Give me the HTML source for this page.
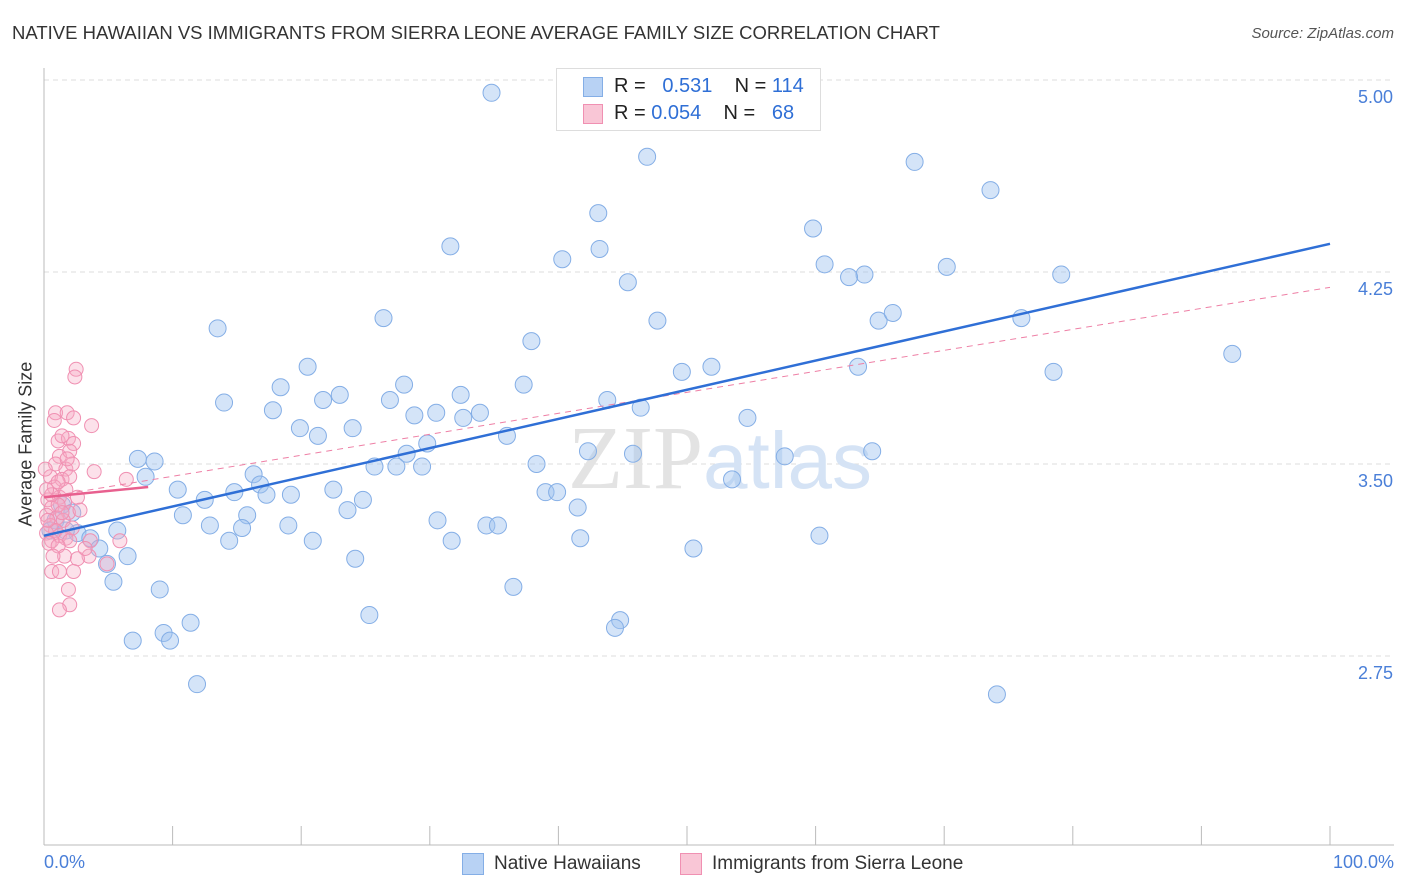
<!DOCTYPE html>
<html><head><meta charset="utf-8"><style>
body{margin:0;background:#fff;font-family:"Liberation Sans",sans-serif}
#wrap{position:relative;width:1406px;height:892px;overflow:hidden}
.t{position:absolute;white-space:nowrap}
</style></head><body>
<div id="wrap">
<div class="t" style="left:12px;top:22px;font-size:18.5px;color:#333">NATIVE HAWAIIAN VS IMMIGRANTS FROM SIERRA LEONE AVERAGE FAMILY SIZE CORRELATION CHART</div>
<div class="t" style="right:12px;top:25px;font-size:15px;color:#555;font-style:italic">Source: ZipAtlas.com</div>
<svg id="svg" width="1406" height="892" style="position:absolute;left:0;top:0"></svg>
</div>
<script>
const yTicks=[5.00,4.25,3.50,2.75];
const yTickLabels=["5.00","4.25","3.50","2.75"];
const xTickLabels=["0.0%","100.0%"];
const blueX=[34.8,46.9,67.7,73.6,43.1,59.8,31.6,43.2,40.3,60.7,70.2,63.8,62.6,79.1,45.4,26.4,13.5,47.7,64.9,66.0,76.0,37.9,92.4,20.5,51.9,49.6,63.3,78.5,28.0,18.4,37.3,14.0,23.0,21.7,26.9,32.4,43.8,17.8,28.8,30.5,32.6,33.9,46.4,54.7,19.9,21.3,24.0,36.0,29.8,28.2,42.3,45.8,57.6,64.4,7.3,8.6,25.7,27.4,29.4,38.3,16.3,7.9,16.8,53.5,10.4,14.8,17.3,19.2,22.5,12.5,24.8,39.0,39.9,23.6,41.5,15.8,10.8,30.6,34.4,35.3,12.9,19.0,15.4,5.7,2.6,3.6,14.4,20.9,31.7,41.7,60.3,4.3,6.5,50.5,24.2,4.9,5.4,36.5,9.0,25.3,44.8,44.4,11.4,9.3,9.8,6.9,11.9,74.1,1.4,2.2,0.9,0.5,1.7];
const blueY=[4.95,4.70,4.68,4.57,4.48,4.42,4.35,4.34,4.30,4.28,4.27,4.24,4.23,4.24,4.21,4.07,4.03,4.06,4.06,4.09,4.07,3.98,3.93,3.88,3.88,3.86,3.88,3.86,3.81,3.80,3.81,3.74,3.77,3.75,3.75,3.77,3.75,3.71,3.69,3.70,3.68,3.70,3.72,3.68,3.64,3.61,3.64,3.61,3.58,3.54,3.55,3.54,3.53,3.55,3.52,3.51,3.49,3.49,3.49,3.50,3.46,3.45,3.42,3.44,3.40,3.39,3.38,3.38,3.40,3.36,3.36,3.39,3.39,3.32,3.33,3.30,3.30,3.28,3.26,3.26,3.26,3.26,3.25,3.24,3.23,3.21,3.20,3.20,3.20,3.21,3.22,3.17,3.14,3.17,3.13,3.11,3.04,3.02,3.01,2.91,2.89,2.86,2.88,2.84,2.81,2.81,2.64,2.60,3.34,3.31,3.28,3.24,3.24];
const pinkX=[2.5,2.4,0.9,1.8,2.3,3.7,0.8,1.1,1.9,2.3,1.4,1.2,2.0,0.9,1.7,2.2,3.9,6.4,0.5,1.4,2.0,0.8,2.6,1.2,0.3,1.6,0.6,1.9,0.2,1.0,1.5,0.5,0.9,0.2,1.2,1.7,0.6,2.0,0.4,1.1,5.9,3.6,1.6,3.5,2.6,4.9,0.6,1.2,2.3,1.9,2.0,1.2,1.1,0.1,2.8,0.6,0.2,1.7,1.4,0.3,2.2,1.1,1.8,3.2,0.7];
const pinkY=[3.87,3.84,3.70,3.70,3.68,3.65,3.67,3.59,3.60,3.58,3.61,3.53,3.55,3.50,3.48,3.50,3.47,3.44,3.45,3.44,3.45,3.41,3.37,3.37,3.36,3.35,3.33,3.31,3.30,3.29,3.28,3.26,3.24,3.23,3.22,3.21,3.20,3.20,3.19,3.18,3.20,3.20,3.14,3.14,3.13,3.11,3.08,3.08,3.08,3.01,2.95,2.93,3.34,3.48,3.32,3.38,3.40,3.40,3.31,3.28,3.25,3.43,3.52,3.17,3.14];
const blueLine=[3.22,4.36];
const pinkSolid=[[0,3.37],[8.1,3.41]];
const pinkDash=[3.37,4.19];

const X=p=>44+p*12.86, Y=v=>80+(5-v)*256;
const svg=document.getElementById('svg'),NS='http://www.w3.org/2000/svg';
function mk(tag,attrs,parent){const e=document.createElementNS(NS,tag);for(const k in attrs)e.setAttribute(k,attrs[k]);(parent||svg).appendChild(e);return e;}
yTicks.forEach((v,i)=>{
 const g=mk('line',{x1:44,x2:1394,y1:Y(v),y2:Y(v),stroke:'#ddd','stroke-dasharray':'5,4'});
 
 
 const t=mk('text',{x:1393,y:Y(v)+23,'text-anchor':'end','font-size':18,fill:'#4a7fd8'});t.textContent=yTickLabels[i];
 
 
});
const ax=mk('line',{x1:44,x2:1394,y1:845,y2:845,stroke:'#bbb'});


const ay=mk('line',{x1:44,x2:44,y1:68,y2:845,stroke:'#bbb'});


for(let i=1;i<=10;i++){const tk=mk('line',{x1:X(i*10),x2:X(i*10),y1:826,y2:845,stroke:'#bbb'});
 
 }
const wm=mk('text',{x:720,y:488,'text-anchor':'middle','font-size':90,fill:'#e3e3e3','font-family':'Liberation Serif'});
wm.innerHTML='ZIP<tspan fill="#d5e3f5" font-family="Liberation Sans" font-size="80">atlas</tspan>';


blueX.forEach((x,i)=>{const c=mk('circle',{cx:X(x),cy:Y(blueY[i]),r:8.5,fill:'rgba(160,196,240,0.45)',stroke:'#84aee6','stroke-width':1});
 
 });
pinkX.forEach((x,i)=>{const c=mk('circle',{cx:X(x),cy:Y(pinkY[i]),r:7,fill:'rgba(245,170,195,0.35)',stroke:'#f090b2','stroke-width':1});
 
 });
const pd=mk('line',{x1:X(0),y1:Y(pinkDash[0]),x2:X(100),y2:Y(pinkDash[1]),stroke:'#ee7fa5','stroke-width':1,'stroke-dasharray':'6,5'});


const bl=mk('line',{x1:X(0),y1:Y(blueLine[0]),x2:X(100),y2:Y(blueLine[1]),stroke:'#2f6fd6','stroke-width':2.5});


const ps=mk('line',{x1:X(pinkSolid[0][0]),y1:Y(pinkSolid[0][1]),x2:X(pinkSolid[1][0]),y2:Y(pinkSolid[1][1]),stroke:'#e8608f','stroke-width':2.5});


</script>
<div class="t" style="left:44px;top:852px;font-size:18px;color:#4a7fd8">0.0%</div>
<div class="t" style="right:12px;top:852px;font-size:18px;color:#4a7fd8">100.0%</div>
<div class="t" style="left:-44px;top:446px;font-size:18px;color:#333;transform:rotate(-90deg);transform-origin:center;width:140px;text-align:center">Average Family Size</div>
<div style="position:absolute;left:556px;top:68px;width:263px;height:61px;border:1px solid #ddd;background:#fff;font-size:20px">
 <div style="position:absolute;left:26px;top:8px;width:18px;height:18px;background:#b8d2f4;border:1px solid #84aee6"></div>
 <div class="t" style="left:57px;top:6px;color:#222">R = <span style="color:#2f6fd6">&nbsp; 0.531</span>&nbsp;&nbsp;&nbsp; N = <span style="color:#2f6fd6">114</span></div>
 <div style="position:absolute;left:26px;top:35px;width:18px;height:18px;background:#f9c6d6;border:1px solid #f090b2"></div>
 <div class="t" style="left:57px;top:33px;color:#222">R = <span style="color:#2f6fd6">0.054</span>&nbsp;&nbsp;&nbsp; N = <span style="color:#2f6fd6">&nbsp; 68</span></div>
</div>
<div style="position:absolute;left:462px;top:853px;width:20px;height:20px;background:#b8d2f4;border:1px solid #84aee6"></div>
<div class="t" style="left:494px;top:853px;font-size:19px;color:#333">Native Hawaiians</div>
<div style="position:absolute;left:680px;top:853px;width:20px;height:20px;background:#f9c6d6;border:1px solid #f090b2"></div>
<div class="t" style="left:712px;top:853px;font-size:19px;color:#333">Immigrants from Sierra Leone</div>
</body></html>
